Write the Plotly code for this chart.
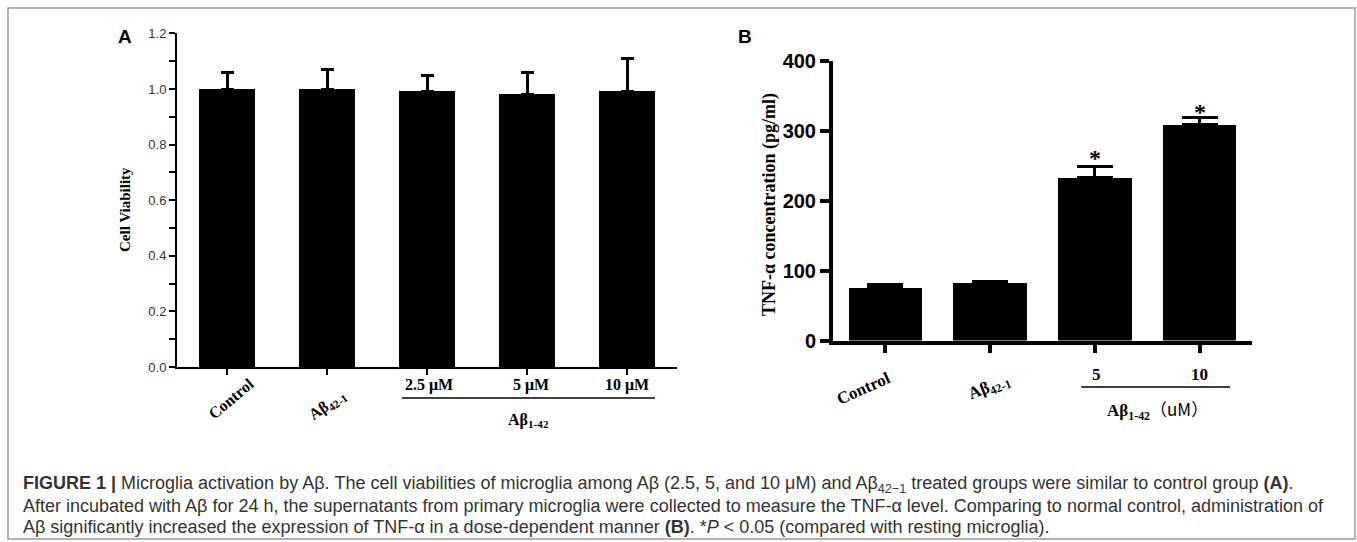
import plotly.graph_objects as go

W, H = 1357, 542

# ---------------- data ----------------
a_labels = ["Control", "Aβ<sub>42-1</sub>", "2.5 μM", "5 μM", "10 μM"]
a_values = [1.00, 1.00, 0.99, 0.98, 0.99]
a_errors = [0.06, 0.07, 0.06, 0.08, 0.12]
a_group_label = "Aβ<sub>1-42</sub>"
a_yticks = [0.0, 0.2, 0.4, 0.6, 0.8, 1.0, 1.2]

b_labels = ["Control", "Aβ<sub>42-1</sub>", "5", "10"]
b_values = [76, 83, 233, 309]
b_errors = [4, 2, 15, 9]
b_star = ["", "", "*", "*"]
b_star_y = [None, None, 268, 333]
b_group_label = "<b>Aβ<sub>1-42</sub></b><span style='font-family:Noto Sans CJK SC'>（uM）</span>"
b_yticks = [0, 100, 200, 300, 400]

caption_lines = [
    "<b>FIGURE 1 |</b> Microglia activation by Aβ. The cell viabilities of microglia among Aβ (2.5, 5, and 10 μM) and Aβ<sub>42−1</sub> treated groups were similar to control group <b>(A)</b>.",
    "After incubated with Aβ for 24 h, the supernatants from primary microglia were collected to measure the TNF-α level. Comparing to normal control, administration of",
    "Aβ significantly increased the expression of TNF-α in a dose-dependent manner <b>(B)</b>. *<i>P</i> &lt; 0.05 (compared with resting microglia).",
]


def px(x):
    return x / W


def py(y):
    return 1 - y / H


SERIF = "Liberation Serif, Times New Roman, serif"
SANS = "Liberation Sans, Arial, sans-serif"
CAP = "Liberation Sans, Arial, sans-serif"

a_x = list(range(len(a_values)))
b_x = list(range(len(b_values)))

fig = go.Figure()

fig.add_trace(go.Bar(
    x=a_x, y=a_values, width=0.56, marker=dict(color="black", line=dict(width=0)),
    error_y=dict(type="data", array=a_errors, arrayminus=[0] * len(a_errors), symmetric=False,
                 color="black", thickness=3, width=6.5),
    xaxis="x", yaxis="y", showlegend=False, hoverinfo="skip"))

fig.add_trace(go.Bar(
    x=b_x, y=b_values, width=0.7, marker=dict(color="black", line=dict(width=0)),
    error_y=dict(type="data", array=b_errors, arrayminus=[0] * len(b_errors), symmetric=False,
                 color="black", thickness=3, width=18),
    xaxis="x2", yaxis="y2", showlegend=False, hoverinfo="skip"))

fig.update_layout(
    width=W, height=H, margin=dict(l=0, r=0, t=0, b=0, autoexpand=False),
    paper_bgcolor="white", plot_bgcolor="white",
    bargap=0,
    xaxis=dict(domain=[px(177), px(677)], range=[-0.5, len(a_values) - 0.5],
               tickvals=a_x, showticklabels=False,
               showline=True, linecolor="black", linewidth=2,
               ticks="outside", ticklen=6, tickwidth=2, tickcolor="black",
               showgrid=False, zeroline=False, anchor="y", fixedrange=True),
    yaxis=dict(domain=[py(367), py(33.4)], range=[0, 1.2],
               tickvals=a_yticks, tickformat=".1f",
               showline=True, linecolor="black", linewidth=2,
               ticks="outside", ticklen=6, tickwidth=2, tickcolor="black",
               minor=dict(dtick=0.1, tick0=0, ticks="outside", ticklen=6, tickwidth=2, tickcolor="black"),
               tickfont=dict(family=SANS, size=13, color="#333"),
               showgrid=False, zeroline=False, anchor="x", fixedrange=True),
    xaxis2=dict(domain=[px(833), px(1252)], range=[-0.5, len(b_values) - 0.5],
                tickvals=b_x, showticklabels=False,
                showline=True, linecolor="black", linewidth=4,
                ticks="outside", ticklen=8, tickwidth=3.5, tickcolor="black",
                showgrid=False, zeroline=False, anchor="y2", fixedrange=True),
    yaxis2=dict(domain=[py(340.5), py(60.5)], range=[0, 400],
                tickvals=b_yticks,
                showline=True, linecolor="black", linewidth=4,
                ticks="outside", ticklen=9, tickwidth=3.5, tickcolor="black",
                tickfont=dict(family=SANS, size=20, color="black", weight="bold"),
                showgrid=False, zeroline=False, anchor="x2", fixedrange=True),
)

C = dict(xanchor="center", yanchor="middle", showarrow=False)
ann = []
# panel letters
ann.append(dict(text="<b>A</b>", x=px(125), y=py(37), xref="paper", yref="paper",
                font=dict(family=SANS, size=19, color="black"), **C))
ann.append(dict(text="<b>B</b>", x=px(745), y=py(37), xref="paper", yref="paper",
                font=dict(family=SANS, size=19, color="black"), **C))
# y titles
ann.append(dict(text="<b>Cell Viability</b>", x=px(125), y=py(210), xref="paper", yref="paper",
                textangle=-90, font=dict(family=SERIF, size=15, color="black"), **C))
ann.append(dict(text="<b>TNF-α concentration (pg/ml)</b>", x=px(769), y=py(204), xref="paper", yref="paper",
                textangle=-90, font=dict(family=SERIF, size=18, color="black"), **C))

# panel A x labels  (xshift, y centre, angle)
a_label_pos = [(4, 398, -40), (0, 405, -35), (2, 385, 0), (4, 385, 0), (0, 385, 0)]
for i, lab in enumerate(a_labels):
    dx, ycen, ang = a_label_pos[i]
    ann.append(dict(text="<b>" + lab + "</b>", x=a_x[i], y=py(ycen), xref="x", yref="paper",
                    xshift=dx, textangle=ang,
                    font=dict(family=SERIF, size=16, color="black"), **C))
ann.append(dict(text="<b>" + a_group_label + "</b>", x=3, y=py(420), xref="x", yref="paper",
                xshift=1, font=dict(family=SERIF, size=16, color="black"), **C))

# panel B x labels
b_label_pos = [(-22, 388, -24), (-1, 388, -22), (2, 374, 0), (0, 374, 0)]
for i, lab in enumerate(b_labels):
    dx, ycen, ang = b_label_pos[i]
    ann.append(dict(text="<b>" + lab + "</b>", x=b_x[i], y=py(ycen), xref="x2", yref="paper",
                    xshift=dx, textangle=ang,
                    font=dict(family=SERIF, size=17, color="black"), **C))
ann.append(dict(text=b_group_label, x=2.5, y=py(409), xref="x2", yref="paper",
                xshift=10, font=dict(family=SERIF, size=17, color="black"), **C))

# asterisks
for i, s in enumerate(b_star):
    if s:
        ann.append(dict(text="<b>" + s + "</b>", x=b_x[i], y=b_star_y[i], xref="x2", yref="y2",
                        yshift=-5, font=dict(family=SERIF, size=24, color="black"), **C))

# caption
cap_y = [484, 506, 527]
for line, yc in zip(caption_lines, cap_y):
    ann.append(dict(text=line, x=px(21), y=py(yc), xref="paper", yref="paper",
                    xanchor="left", yanchor="middle", showarrow=False, align="left",
                    font=dict(family=CAP, size=18, color="#333")))

fig.update_layout(annotations=ann)

shapes = [
    dict(type="line", xref="x", yref="paper", x0=2 - 0.25, x1=4 + 0.28, y0=py(398), y1=py(398),
         line=dict(color="black", width=1.5)),
    dict(type="line", xref="x2", yref="paper", x0=2 - 0.13, x1=3 + 0.29, y0=py(387), y1=py(387),
         line=dict(color="black", width=1.5)),
    dict(type="rect", xref="paper", yref="paper", x0=px(8), x1=px(1355), y0=py(539), y1=py(8),
         line=dict(color="#999", width=1.5), fillcolor="rgba(0,0,0,0)", layer="below"),
]
fig.update_layout(shapes=shapes)

fig.write_html("out.html", config={"displayModeBar": False},
               post_script="document.body.style.margin='0px';document.body.style.overflow='hidden';")
